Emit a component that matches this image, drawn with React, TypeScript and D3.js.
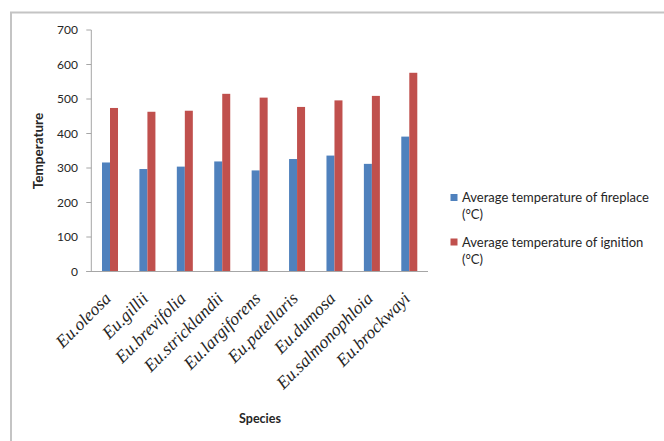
import React from "react";
import * as d3 from "d3";

const species = [
  "Eu.oleosa",
  "Eu.gillii",
  "Eu.brevifolia",
  "Eu.stricklandii",
  "Eu.largiforens",
  "Eu.patellaris",
  "Eu.dumosa",
  "Eu.salmonophloia",
  "Eu.brockwayi",
];
const fireplace = [316, 297, 304, 319, 293, 326, 336, 312, 391];
const ignition = [474, 463, 466, 515, 504, 477, 496, 509, 576];
const yTicks = [0, 100, 200, 300, 400, 500, 600, 700];
const seriesNames = [
  ["Average temperature of fireplace", "(°C)"],
  ["Average temperature of ignition", "(°C)"],
];
const colors = ["#4F81BD", "#C0504D"];

export default function App() {
  const W = 664;
  const H = 441;
  const left = 91.3;
  const right = 428;
  const top = 30;
  const bottom = 271.5;
  const x = d3.scaleBand<string>().domain(species).range([left, right]).padding(0);
  const y = d3.scaleLinear().domain([0, 700]).range([bottom, top]);
  const barW = 8;
  const font = "Lato, 'Open Sans', sans-serif";
  const axisColor = "#a6a6a6";

  return (
    <svg
      width={W}
      height={H}
      style={{ position: "absolute", left: 0, top: 0, background: "#fff" }}
    >
      <rect x={0} y={0} width={W} height={H} fill="#fff" />
      <path d={`M11,${H + 5} V12.5 H${W + 5}`} fill="none" stroke="#c4c4c4" strokeWidth={2} />
      {/* bars */}
      {species.map((s, i) => {
        const c = (x(s) as number) + x.bandwidth() / 2;
        return (
          <g key={s}>
            <rect
              x={c - barW}
              y={y(fireplace[i])}
              width={barW}
              height={bottom - y(fireplace[i])}
              fill={colors[0]}
            />
            <rect
              x={c}
              y={y(ignition[i])}
              width={barW}
              height={bottom - y(ignition[i])}
              fill={colors[1]}
            />
          </g>
        );
      })}
      {/* y axis */}
      <line x1={left} x2={left} y1={top} y2={bottom} stroke={axisColor} strokeWidth={1} />
      {yTicks.map((t) => (
        <g key={t}>
          <line x1={left - 5} x2={left} y1={y(t)} y2={y(t)} stroke={axisColor} strokeWidth={1} />
          <text
            x={78}
            y={y(t)}
            dy="0.35em"
            textAnchor="end"
            fontFamily={font}
            fontSize={12}
            fill="#262626"
          >
            {t}
          </text>
        </g>
      ))}
      {/* x axis */}
      <line x1={left - 5} x2={right} y1={bottom} y2={bottom} stroke={axisColor} strokeWidth={1} />
      {species.map((s) => {
        const c = (x(s) as number) + x.bandwidth() / 2;
        return (
          <text
            key={s}
            transform={`translate(${c + 2},${bottom + 28}) rotate(-45)`}
            textAnchor="end"
            fontFamily="'Liberation Serif', 'Times New Roman', serif"
            fontStyle="italic"
            fontSize={17.5}
            fill="#262626"
          >
            {s}
          </text>
        );
      })}
      {/* axis titles */}
      <text
        transform={`translate(43,151) rotate(-90)`}
        textAnchor="middle"
        fontFamily={font}
        fontWeight="bold"
        fontSize={13.5}
        fill="#262626"
      >
        Temperature
      </text>
      <text
        x={260}
        y={423}
        textAnchor="middle"
        fontFamily={font}
        fontWeight="bold"
        fontSize={12.5}
        fill="#262626"
      >
        Species
      </text>
      {/* legend */}
      {seriesNames.map((lines, i) => {
        const y0 = 202 + i * 44.5;
        return (
          <g key={i}>
            <rect x={450.5} y={y0 - 8} width={7} height={7} fill={colors[i]} />
            {lines.map((ln, j) => (
              <text
                key={j}
                x={462}
                y={y0 + j * 17}
                fontFamily={font}
                fontSize={13}
                fill="#262626"
              >
                {ln}
              </text>
            ))}
          </g>
        );
      })}
    </svg>
  );
}
